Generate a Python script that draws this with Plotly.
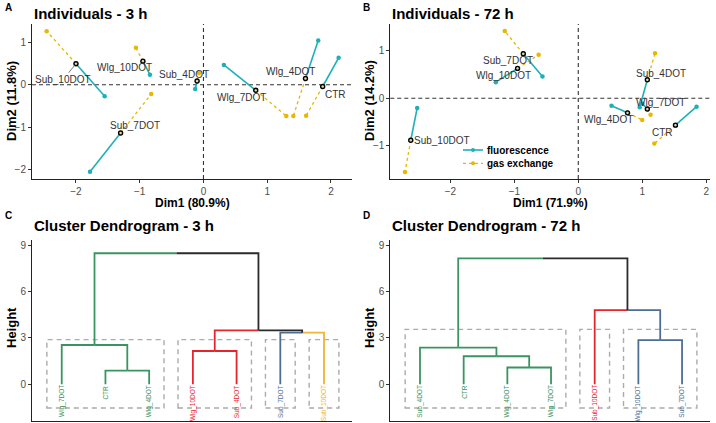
import plotly.graph_objects as go

W, H = 716, 423

# ---------------- Data: MFA partial individuals ----------------
ind_3h = ["Sub_10DOT", "Wlg_10DOT", "Sub_4DOT", "Sub_7DOT", "Wlg_7DOT", "Wlg_4DOT", "CTR"]
mean_x_3h = [-2.00, -0.95, -0.10, -1.30, 0.82, 1.60, 1.87]
mean_y_3h = [0.50, 0.56, 0.09, -1.14, -0.13, 0.15, -0.04]
fluo_x_3h = [-1.55, -0.84, -0.13, -1.78, 0.32, 1.80, 2.12]
fluo_y_3h = [-0.27, 0.24, -0.10, -2.06, 0.47, 1.05, 0.64]
gas_x_3h = [-2.46, -1.06, -0.07, -0.82, 1.30, 1.41, 1.61]
gas_y_3h = [1.27, 0.88, 0.28, -0.22, -0.74, -0.74, -0.73]

ind_72h = ["Sub_10DOT", "Sub_7DOT", "Wlg_10DOT", "Sub_4DOT", "Wlg_7DOT", "Wlg_4DOT", "CTR"]
mean_x_72h = [-2.62, -0.86, -0.95, 1.08, 1.08, 0.77, 1.52]
mean_y_72h = [-0.89, 0.94, 0.63, 0.39, -0.23, -0.31, -0.57]
fluo_x_72h = [-2.52, -0.56, -1.29, 0.96, 1.00, 0.52, 1.85]
fluo_y_72h = [-0.21, 0.46, 0.34, -0.19, -0.11, -0.16, -0.18]
gas_x_72h = [-2.71, -1.15, -0.62, 1.20, 1.13, 1.00, 1.19]
gas_y_72h = [-1.56, 1.42, 0.92, 0.95, -0.35, -0.46, -0.96]

groups = ["fluorescence", "gas exchange"]

# ---------------- Data: dendrograms ----------------
leaves_3h = ["Wlg_7DOT", "CTR", "Wlg_4DOT", "Wlg_10DOT", "Sub_4DOT", "Sub_7DOT", "Sub_10DOT"]
clusters_3h = [1, 1, 1, 2, 2, 3, 4]
merge_a_3h = [-2, -4, -1, -6, 2, 3]
merge_b_3h = [-3, -5, 1, -7, 4, 5]
merge_h_3h = [0.88, 2.15, 2.54, 3.34, 3.49, 8.49]

leaves_72h = ["Sub_4DOT", "CTR", "Wlg_4DOT", "Wlg_7DOT", "Sub_10DOT", "Wlg_10DOT", "Sub_7DOT"]
clusters_72h = [1, 1, 1, 1, 2, 3, 3]
merge_a_72h = [-3, -2, -1, -6, -5, 3]
merge_b_72h = [-4, 1, 2, -7, 4, 5]
merge_h_72h = [1.08, 1.81, 2.37, 2.86, 4.80, 8.16]

# ---------------- Styles ----------------
C_FLUO = "#1FAFB8"
C_GAS = "#E7B800"
clus_col_3h = {1: "#3A9460", 2: "#E5252B", 3: "#4E6E94", 4: "#F0B338"}
clus_col_72h = {1: "#3A9460", 2: "#E5252B", 3: "#4E6E94"}
C_TOP = "#2B2B2B"
FONT = "Liberation Sans, Arial, sans-serif"
TICKC = "#4D4D4D"

fig = go.Figure()


def px_dom(a, b, total):
    return [a / total, b / total]


def ydom(top, bottom):
    return [(H - bottom) / H, (H - top) / H]


# ---------------- PCA panels ----------------
def add_pca(xa, ya, mx, my, fx, fy, gx, gy):
    lx, ly = [], []
    for i in range(len(mx)):
        lx += [mx[i], fx[i], None]
        ly += [my[i], fy[i], None]
    fig.add_trace(go.Scatter(x=lx, y=ly, mode="lines+markers", xaxis=xa, yaxis=ya,
                             line=dict(color=C_FLUO, width=1.6),
                             marker=dict(color=C_FLUO, size=4.5),
                             name=groups[0], showlegend=False))
    gxx, gyy = [], []
    for i in range(len(mx)):
        gxx += [mx[i], gx[i], None]
        gyy += [my[i], gy[i], None]
    fig.add_trace(go.Scatter(x=gxx, y=gyy, mode="lines+markers", xaxis=xa, yaxis=ya,
                             line=dict(color=C_GAS, width=1.3, dash="dot"),
                             marker=dict(color=C_GAS, size=4.5),
                             name=groups[1], showlegend=False))
    fig.add_trace(go.Scatter(x=mx, y=my, mode="markers", xaxis=xa, yaxis=ya,
                             marker=dict(color="#D8D8B0", size=4,
                                         line=dict(color="black", width=1.4)),
                             showlegend=False))


add_pca("x", "y", mean_x_3h, mean_y_3h, fluo_x_3h, fluo_y_3h, gas_x_3h, gas_y_3h)
add_pca("x2", "y2", mean_x_72h, mean_y_72h, fluo_x_72h, fluo_y_72h, gas_x_72h, gas_y_72h)

# label offsets (pixels) relative to the mean point
off_3h = {"Sub_10DOT": (-13, 16), "Wlg_10DOT": (-18, 6), "Sub_4DOT": (-13, -7),
          "Sub_7DOT": (14, -7), "Wlg_7DOT": (-14, 7), "Wlg_4DOT": (-15, -7), "CTR": (13, 8)}
off_72h = {"Sub_10DOT": (31, 0), "Sub_7DOT": (-15, 7), "Wlg_10DOT": (-14, 7),
           "Sub_4DOT": (14, -6), "Wlg_7DOT": (13, -7), "Wlg_4DOT": (-19, 7), "CTR": (-13, 7)}

annotations = []
for names, mx, my, offs, xr, yr in [(ind_3h, mean_x_3h, mean_y_3h, off_3h, "x", "y"),
                                     (ind_72h, mean_x_72h, mean_y_72h, off_72h, "x2", "y2")]:
    for i, n in enumerate(names):
        ax, ay = offs[n]
        arrow = (n == "Sub_10DOT" and xr == "x")
        annotations.append(dict(x=mx[i], y=my[i], xref=xr, yref=yr, text=n,
                                showarrow=True, ax=ax, ay=ay,
                                arrowwidth=0.8 if arrow else 0.1,
                                arrowcolor="#555" if arrow else "rgba(0,0,0,0)",
                                arrowhead=0, standoff=2,
                                font=dict(size=10, color="#333", family=FONT)))


# ---------------- Dendrograms ----------------
def add_dend(xa, ya, leaves, clusters, ma, mb, mh, cols):
    n = len(leaves)
    node_x, node_h, node_cl = {}, {}, {}
    for i in range(n):
        node_x[-(i + 1)] = i + 1
        node_h[-(i + 1)] = 0.0
        node_cl[-(i + 1)] = {clusters[i]}
    segs = {}
    for k in range(len(ma)):
        m = k + 1
        a, b, h = ma[k], mb[k], mh[k]
        px = (node_x[a] + node_x[b]) / 2
        node_x[m] = px
        node_h[m] = h
        node_cl[m] = node_cl[a] | node_cl[b]
        for c in (a, b):
            col = cols[list(node_cl[c])[0]] if len(node_cl[c]) == 1 else C_TOP
            segs.setdefault(col, ([], []))
            segs[col][0].extend([node_x[c], node_x[c], px, None])
            segs[col][1].extend([node_h[c], h, h, None])
    for col, (sx, sy) in segs.items():
        fig.add_trace(go.Scatter(x=sx, y=sy, mode="lines", xaxis=xa, yaxis=ya,
                                 line=dict(color=col, width=1.8), showlegend=False,
                                 hoverinfo="skip"))
    for i, lab in enumerate(leaves):
        annotations.append(dict(x=i + 1, y=0, xref=xa, yref=ya, text=lab,
                                textangle=-90, showarrow=False, xanchor="center",
                                yanchor="top", yshift=1,
                                font=dict(size=6.5, color=cols[clusters[i]], family=FONT)))


add_dend("x3", "y3", leaves_3h, clusters_3h, merge_a_3h, merge_b_3h, merge_h_3h, clus_col_3h)
add_dend("x4", "y4", leaves_72h, clusters_72h, merge_a_72h, merge_b_72h, merge_h_72h, clus_col_72h)

shapes = []
# dashed zero lines
for xr, yr in [("x", "y"), ("x2", "y2")]:
    shapes.append(dict(type="line", xref=xr, yref=yr + " domain", x0=0, x1=0, y0=0, y1=1,
                       line=dict(color="#333", width=1.1, dash="4px,3px"), layer="below"))
    shapes.append(dict(type="line", xref=xr + " domain", yref=yr, x0=0, x1=1, y0=0, y1=0,
                       line=dict(color="#333", width=1.1, dash="4px,3px"), layer="below"))


# cluster rectangles
def rects(xr, yr, clusters, top):
    ids = sorted(set(clusters))
    for c in ids:
        pos = [i + 1 for i, v in enumerate(clusters) if v == c]
        shapes.append(dict(type="rect", xref=xr, yref=yr, x0=min(pos) - 0.34, x1=max(pos) + 0.34,
                           y0=-1.55, y1=top, line=dict(color="#ABABAB", width=1.4, dash="5px,4px"),
                           layer="below"))


rects("x3", "y3", clusters_3h, 2.89)
rects("x4", "y4", clusters_72h, 3.55)

# custom legend (panel B)
leg_y = [150, 163.3]
leg_col = [C_FLUO, C_GAS]
leg_dash = ["solid", "dot"]
leg_w = [1.6, 1.3]
for k in range(2):
    yy = 1 - leg_y[k] / H
    shapes.append(dict(type="line", xref="paper", yref="paper", x0=463 / W, x1=483 / W,
                       y0=yy, y1=yy, line=dict(color=leg_col[k], width=leg_w[k], dash=leg_dash[k])))
    shapes.append(dict(type="circle", xref="paper", yref="paper",
                       x0=(473 - 2) / W, x1=(473 + 2) / W, y0=yy - 2 / H, y1=yy + 2 / H,
                       fillcolor=leg_col[k], line=dict(width=0)))
    annotations.append(dict(x=485 / W, y=yy, xref="paper", yref="paper",
                            text="<b>%s</b>" % groups[k], showarrow=False,
                            xanchor="left", yanchor="middle",
                            font=dict(size=10, color="black", family=FONT)))

# ---------------- Axes ----------------
base_ax = dict(showline=True, linecolor="#222", linewidth=1, ticks="outside", ticklen=3,
               tickcolor="#333", showgrid=False, zeroline=False,
               tickfont=dict(size=10, color=TICKC, family=FONT))

top_pca, bot_pca = 24, 179
top_d, bot_d = 240, 420.7

fig.update_layout(
    xaxis=dict(base_ax, domain=px_dom(32, 352, W), range=[-2.69, 2.33], anchor="y",
               tickvals=[-2, -1, 0, 1, 2]),
    yaxis=dict(base_ax, domain=ydom(top_pca, bot_pca), range=[-2.23, 1.44], anchor="x",
               tickvals=[-2, -1, 0, 1]),
    xaxis2=dict(base_ax, domain=px_dom(390.3, 710, W), range=[-2.94, 2.06], anchor="y2",
                tickvals=[-2, -1, 0, 1, 2]),
    yaxis2=dict(base_ax, domain=ydom(top_pca, bot_pca), range=[-1.71, 1.57], anchor="x2",
                tickvals=[-1, 0, 1]),
    xaxis3=dict(base_ax, domain=px_dom(32, 352, W), range=[0.32, 7.64], anchor="y3",
                ticks="", showticklabels=False),
    yaxis3=dict(base_ax, domain=ydom(top_d, bot_d), range=[-2.37, 9.35], anchor="x3",
                tickvals=[0, 3, 6, 9]),
    xaxis4=dict(base_ax, domain=px_dom(390.3, 710, W), range=[0.32, 7.64], anchor="y4",
                ticks="", showticklabels=False),
    yaxis4=dict(base_ax, domain=ydom(top_d, bot_d), range=[-2.37, 9.35], anchor="x4",
                tickvals=[0, 3, 6, 9]),
)


def pa(x, y, text, size, bold=True, angle=0, xanchor="center", color="black"):
    annotations.append(dict(x=x / W, y=1 - y / H, xref="paper", yref="paper",
                            text=("<b>%s</b>" % text) if bold else text, showarrow=False,
                            textangle=angle, xanchor=xanchor, yanchor="middle",
                            font=dict(size=size, color=color, family=FONT)))


# panel letters
pa(3, 7, "A", 10, xanchor="left")
pa(361, 7, "B", 10, xanchor="left")
pa(3, 216, "C", 10, xanchor="left")
pa(361, 216, "D", 10, xanchor="left")
# titles
pa(32, 13, "Individuals - 3 h", 15, xanchor="left")
pa(390, 13, "Individuals - 72 h", 15, xanchor="left")
pa(32, 225, "Cluster Dendrogram - 3 h", 15, xanchor="left")
pa(390, 225, "Cluster Dendrogram - 72 h", 15, xanchor="left")
# axis titles
pa(192, 203, "Dim1 (80.9%)", 12)
pa(550, 203, "Dim1 (71.9%)", 12)
pa(11, 101, "Dim2 (11.8%)", 13, angle=-90)
pa(369, 101, "Dim2 (14.2%)", 13, angle=-90)
pa(11, 328, "Height", 13, angle=-90)
pa(369, 328, "Height", 13, angle=-90)

fig.update_layout(
    width=W, height=H, margin=dict(l=0, r=0, t=0, b=0),
    paper_bgcolor="white", plot_bgcolor="white",
    annotations=annotations, shapes=shapes, showlegend=False,
    font=dict(family=FONT),
)

fig.write_html("out.html", config={"displayModeBar": False},
               post_script="document.body.style.margin='0';document.body.style.padding='0';")
